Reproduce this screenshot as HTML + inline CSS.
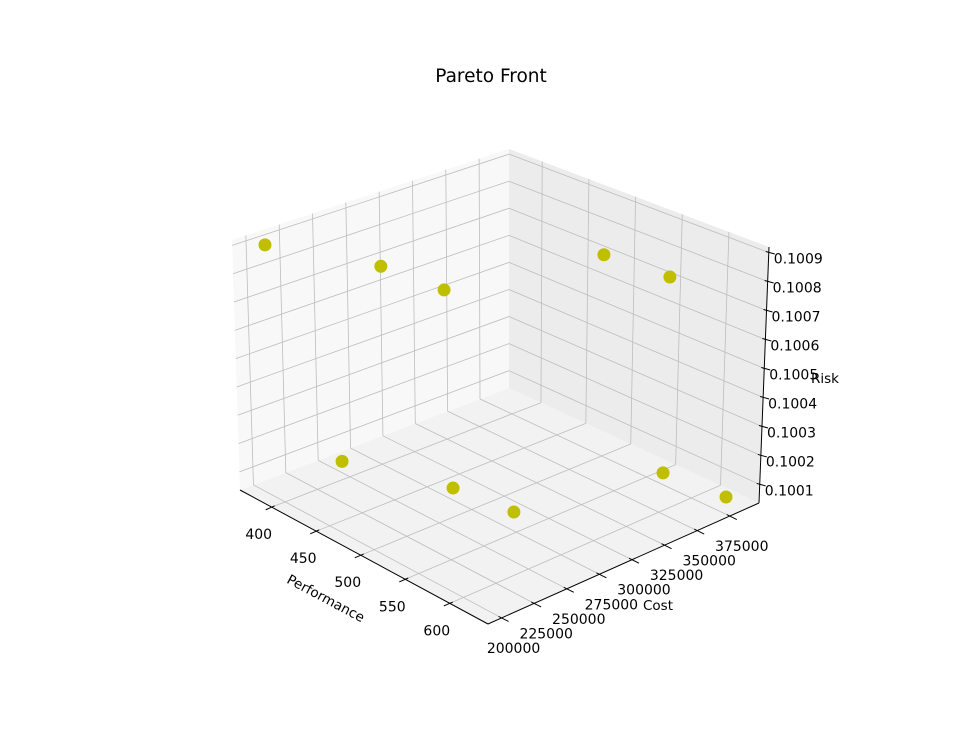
<!DOCTYPE html>
<html><head><meta charset="utf-8"><style>
html,body{margin:0;padding:0;background:#fff;}
svg{display:block;font-family:"DejaVu Sans","Liberation Sans",sans-serif;}
</style></head><body>
<svg id="chart" width="959" height="754" viewBox="0 0 959 754" xmlns="http://www.w3.org/2000/svg">
<rect width="959" height="754" fill="#fff"/>
<text x="491" y="82" text-anchor="middle" font-size="18.5" fill="#000">Pareto Front</text>
<g id="panes"></g><g id="grid"></g><g id="axes"></g><g id="points"></g>
<text x="326" y="603" text-anchor="middle" font-size="13.5" transform="rotate(28 326 598)">Performance</text>
<text x="658" y="610" text-anchor="middle" font-size="13.5">Cost</text>
<text x="825" y="383" text-anchor="middle" font-size="13.5">Risk</text>
</svg>
<script>
const performance = [375.8, 458.8, 520.9, 554.6, 619.5, 398.9, 486.1, 546.0, 575.5, 639.3];
const cost = [206200, 235100, 239100, 335500, 339600, 244900, 270200, 275700, 369800, 374100];
const risk = [0.100893, 0.100893, 0.100893, 0.100893, 0.100893, 0.100098, 0.100098, 0.100098, 0.100098, 0.100098];
const perfTicks = [400, 450, 500, 550, 600];
const costTicks = [200000, 225000, 250000, 275000, 300000, 325000, 350000, 375000];
const riskTicks = [0.1001, 0.1002, 0.1003, 0.1004, 0.1005, 0.1006, 0.1007, 0.1008, 0.1009];
const riskLabels = ["0.1001","0.1002","0.1003","0.1004","0.1005","0.1006","0.1007","0.1008","0.1009"];

const XL=[364.4,642.9], YL=[189600,397400], ZL=[0.100036,0.100919];
const cb={A:[240,490],B:[488,624],C:[759,503],D:[509,388]};
const ct={A:[232,240],B:[492,359],C:[769,247],D:[509,149]};
const NS="http://www.w3.org/2000/svg";
function bil(c,u,v){return [0,1].map(i=>(1-u)*(1-v)*c.A[i]+u*(1-v)*c.B[i]+u*v*c.C[i]+(1-u)*v*c.D[i]);}
function P(u,v,w){const b=bil(cb,u,v),t=bil(ct,u,v);return [b[0]+(t[0]-b[0])*w,b[1]+(t[1]-b[1])*w];}
const xs=d=>(d-XL[0])/(XL[1]-XL[0]), ys=d=>(d-YL[0])/(YL[1]-YL[0]), zs=d=>(d-ZL[0])/(ZL[1]-ZL[0]);
function mk(tag,attrs,parent){const e=document.createElementNS(NS,tag);for(const k in attrs)e.setAttribute(k,attrs[k]);document.getElementById(parent).appendChild(e);return e;}
function poly(pts){return pts.map(p=>p.join(',')).join(' ');}
function line(a,b,parent,stroke,w){return mk('line',{x1:a[0],y1:a[1],x2:b[0],y2:b[1],stroke:stroke,'stroke-width':w},parent);}

let e;
e=mk('polygon',{points:poly([P(0,0,0),P(1,0,0),P(1,1,0),P(0,1,0)]),fill:'#f2f2f2'},'panes');


e=mk('polygon',{points:poly([P(0,0,0),P(0,1,0),P(0,1,1),P(0,0,1)]),fill:'#f8f8f8'},'panes');


e=mk('polygon',{points:poly([P(0,1,0),P(1,1,0),P(1,1,1),P(0,1,1)]),fill:'#ececec'},'panes');



const G='#bdbdbd';
perfTicks.forEach(t=>{const u=xs(t);
  e=line(P(u,0,0),P(u,1,0),'grid',G,0.8);
  
  
  e=line(P(u,1,0),P(u,1,1),'grid',G,0.8);
  
  
  const p=P(u,0,0);
  e=line([p[0]+3,p[1]-1.3],[p[0]-6,p[1]+2.6],'axes','#000',1);
  
  
  e=mk('text',{x:p[0]-13,y:p[1]+32,'text-anchor':'middle','font-size':14},'axes');e.textContent=String(t);
  
  
});
costTicks.forEach(t=>{const v=ys(t);
  e=line(P(0,v,0),P(1,v,0),'grid',G,0.8);
  
  
  e=line(P(0,v,0),P(0,v,1),'grid',G,0.8);
  
  
  const p=P(1,v,0);
  e=line([p[0]-3,p[1]-1.5],[p[0]+7,p[1]+3.5],'axes','#000',1);
  
  
  e=mk('text',{x:p[0]+12,y:p[1]+35,'text-anchor':'middle','font-size':14},'axes');e.textContent=String(t);
  
  
});
riskTicks.forEach((t,i)=>{const w=zs(t);
  e=line(P(0,0,w),P(0,1,w),'grid',G,0.8);
  
  
  e=line(P(0,1,w),P(1,1,w),'grid',G,0.8);
  
  
  const p=P(1,1,w);
  e=line([p[0]-3,p[1]-1],[p[0]+6,p[1]+1.5],'axes','#000',1);
  
  
  e=mk('text',{x:p[0]+5,y:p[1]+11,'text-anchor':'start','font-size':14},'axes');e.textContent=riskLabels[i];
  
  
});
e=line(P(0,0,0),P(1,0,0),'axes','#000',1);


e=line(P(1,0,0),P(1,1,0),'axes','#000',1);


e=line(P(1,1,0),P(1,1,1),'axes','#000',1);



performance.forEach((d,i)=>{const p=P(xs(d),ys(cost[i]),zs(risk[i]));
  e=mk('circle',{cx:p[0],cy:p[1],r:6.5,fill:'#bfbf00'},'points');
  
  
});
</script>
</body></html>
